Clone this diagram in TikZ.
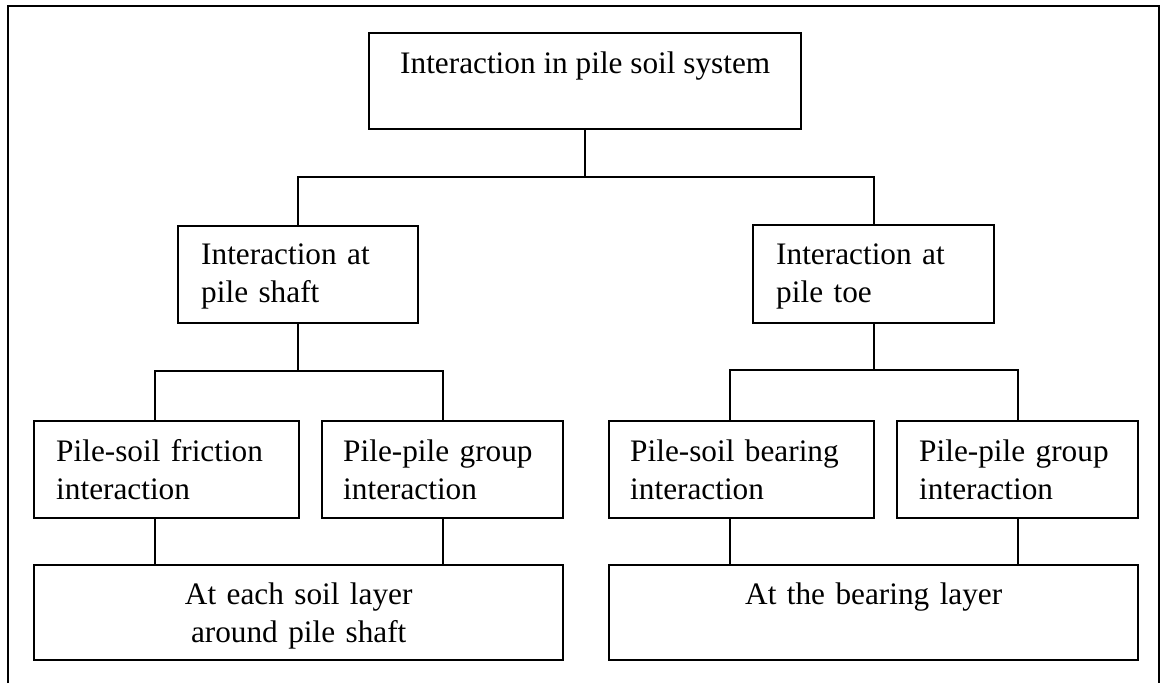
\documentclass[tikz,border=0pt]{standalone}
\usepackage{fontspec}
\setmainfont{Liberation Serif}
\tikzset{
  blk/.style={draw,line width=.7pt,anchor=north west,inner ysep=0pt,
    inner xsep=2.2mm,align=left,text height=4mm,text depth=5.7mm,
    font=\fontsize{8.9}{11}\selectfont},
  lnk/.style={line width=.7pt}
}
\begin{document}
\begin{tikzpicture}[x=.1mm,y=-.1mm]
\useasboundingbox (0,0) rectangle (1163,683);
% frame
\draw[lnk] (8,683) |- (1159,6) -- (1159,683);
% boxes
\node[blk,align=center,inner xsep=0pt,minimum width=43.2mm,text depth=5.6mm] (top) at (368,32) {Interaction in pile soil system};
\node[blk,inner xsep=2.3mm,text width=19.4mm,text height=3.8mm,text depth=5.9mm] (shaft) at (177,225) {Interaction at\\pile shaft};
\node[blk,inner xsep=2.3mm,text width=19.5mm,text height=3.9mm,text depth=5.9mm] (toe) at (752,224) {Interaction at\\pile toe};
\node[blk,text width=22.1mm] (fric) at (33,420) {Pile-soil friction\\interaction};
\node[blk,inner xsep=2.1mm,text width=19.9mm] (grpA) at (321,420) {Pile-pile group\\interaction};
\node[blk,inner xsep=2.1mm,text width=22.3mm] (bear) at (608,420) {Pile-soil bearing\\interaction};
\node[blk,text width=19.7mm] (grpB) at (896,420) {Pile-pile group\\interaction};
\node[blk,align=center,inner xsep=2mm,text width=48.9mm,text height=3.9mm,text depth=5.6mm] (layA) at (33,564) {At each soil layer\\around pile shaft};
\node[blk,align=center,inner xsep=2mm,text width=48.9mm,text height=3.9mm,text depth=5.6mm] (layB) at (608,564) {At the bearing layer};
% links
\coordinate (j1) at (top.south |- 0,177);
\coordinate (j2) at (shaft.south |- 0,371);
\coordinate (j3) at (toe.south |- 0,370);
\draw[lnk] (top.south) -- (j1);
\draw[lnk] (shaft.north) |- (j1) -| (toe.north);
\draw[lnk] (shaft.south) -- (j2);
\draw[lnk] ([xshift=-1.2mm]fric.north) |- (j2) -| (grpA.north);
\draw[lnk] (toe.south) -- (j3);
\draw[lnk] ([xshift=-1.2mm]bear.north) |- (j3) -| (grpB.north);
\draw[lnk] ([xshift=-1.2mm]fric.south) -- ([xshift=-1.2mm]fric.south |- layA.north);
\draw[lnk] (grpA.south) -- (grpA.south |- layA.north);
\draw[lnk] ([xshift=-1.2mm]bear.south) -- ([xshift=-1.2mm]bear.south |- layB.north);
\draw[lnk] (grpB.south) -- (grpB.south |- layB.north);
\end{tikzpicture}
\end{document}
